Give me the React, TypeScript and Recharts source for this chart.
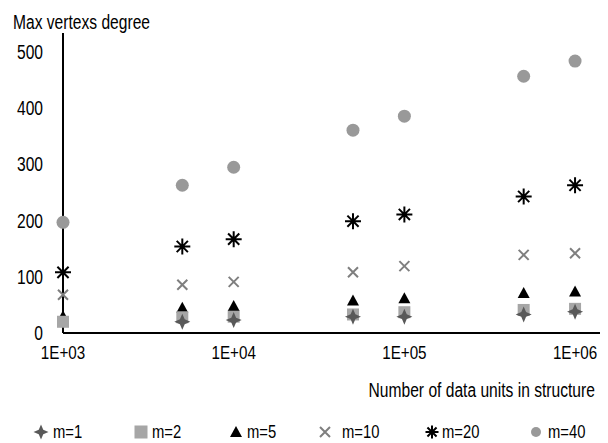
import React from 'react'
import { ScatterChart, Scatter, XAxis, YAxis } from 'recharts'

const sizes = [1000, 5000, 10000, 50000, 100000, 500000, 1000000]
const m1 = [null, 20, 23, 29, 29, 33, 38]
const m2 = [20, 28, 29, 33, 37, 41, 43]
const m5 = [30, 45, 48, 58, 62, 71, 74]
const m10 = [68, 86, 91, 108, 119, 139, 142]
const m20 = [108, 154, 167, 199, 211, 243, 263]
const m40 = [197, 263, 295, 361, 386, 457, 484]
const xTicks = [1000, 10000, 100000, 1000000]
const yTicks = [0, 100, 200, 300, 400, 500]

const FONT = '"Liberation Sans", Arial, sans-serif'
const NARROW = 0.8

const toPts = (vals: (number | null)[]) =>
  sizes.map((x, i) => ({ x, y: vals[i] })).filter(p => p.y !== null)

const Star = ({ cx, cy, R = 8 }: any) => {
  const r = R * 0.3
  const d = `M${cx},${cy - R} L${cx + r},${cy - r} L${cx + R},${cy} L${cx + r},${cy + r} L${cx},${cy + R} L${cx - r},${cy + r} L${cx - R},${cy} L${cx - r},${cy - r} Z`
  return <path d={d} fill="#595959" />
}
const Sq = ({ cx, cy, s = 6 }: any) => <rect x={cx - s} y={cy - s} width={2 * s} height={2 * s} fill="#a6a6a6" />
const Tri = ({ cx, cy }: any) => (
  <path d={`M${cx},${cy - 6} L${cx + 6},${cy + 5} L${cx - 6},${cy + 5} Z`} fill="#000" />
)
const Cross = ({ cx, cy }: any) => (
  <path d={`M${cx - 5},${cy - 5} L${cx + 5},${cy + 5} M${cx + 5},${cy - 5} L${cx - 5},${cy + 5}`}
    stroke="#7f7f7f" strokeWidth={2} />
)
const Ast = ({ cx, cy, R = 8 }: any) => {
  const k = R * 0.7
  return (
    <path d={`M${cx},${cy - R} L${cx},${cy + R} M${cx - R},${cy} L${cx + R},${cy} M${cx - k},${cy - k} L${cx + k},${cy + k} M${cx + k},${cy - k} L${cx - k},${cy + k}`}
      stroke="#000" strokeWidth={2} />
  )
}
const Dot = ({ cx, cy, r = 6.5 }: any) => <circle cx={cx} cy={cy} r={r} fill="#999999" />

// legend layout: symbol centre x, text start x
const legendItems = [
  { name: 'm=1', icon: <Star cx={9} cy={9} R={7.5} />, sx: 41, tx: 53 },
  { name: 'm=2', icon: <Sq cx={9} cy={9} s={6.5} />, sx: 141, tx: 152 },
  { name: 'm=5', icon: <Tri cx={9} cy={9} />, sx: 236, tx: 247 },
  { name: 'm=10', icon: <Cross cx={9} cy={9} />, sx: 325, tx: 342 },
  { name: 'm=20', icon: <Ast cx={9} cy={9} R={6.5} />, sx: 432, tx: 442 },
  { name: 'm=40', icon: <Dot cx={9} cy={9} r={5} />, sx: 536, tx: 548 },
]

const fmt = (v: number) => '1E+0' + Math.round(Math.log10(v))

const NarrowTick = ({ x, y, payload, textAnchor, size, formatter }: any) => (
  <text transform={`translate(${x},${y}) scale(${NARROW},1)`} textAnchor={textAnchor}
    dy="0.36em" fill="#000" fontSize={size} fontFamily={FONT}>
    {formatter ? formatter(payload.value) : payload.value}
  </text>
)

const narrowText = (origin: string): React.CSSProperties => ({
  position: 'absolute', fontFamily: FONT, fontSize: 19.5, whiteSpace: 'nowrap',
  transform: `scaleX(${NARROW})`, transformOrigin: origin, lineHeight: '20px',
})

export default function App() {
  return (
    <div style={{ position: 'absolute', left: 0, top: 0, width: 608, height: 443, background: '#fff' }}>
      <div style={{ ...narrowText('left'), left: 13, top: 12 }}>Max vertexs degree</div>
      <div style={{ ...narrowText('right'), right: 13, top: 380 }}>Number of data units in structure</div>
      <ScatterChart width={608} height={443} margin={{ top: 33, right: 8, bottom: 0, left: 0 }}>
        <XAxis dataKey="x" type="number" scale="log" domain={[1000, 1400000]} ticks={xTicks}
          height={110} tickLine={false} tickSize={0} tickMargin={19}
          axisLine={{ stroke: '#000', strokeWidth: 2 }}
          tick={<NarrowTick size={19} formatter={fmt} />} />
        <YAxis dataKey="y" type="number" domain={[0, 534]} ticks={yTicks} width={63}
          tickLine={false} tickSize={0} tickMargin={20}
          axisLine={{ stroke: '#000', strokeWidth: 2 }}
          tick={<NarrowTick size={19.5} />} />
        <Scatter name="m=40" data={toPts(m40)} shape={Dot} isAnimationActive={false} />
        <Scatter name="m=20" data={toPts(m20)} shape={Ast} isAnimationActive={false} />
        <Scatter name="m=10" data={toPts(m10)} shape={Cross} isAnimationActive={false} />
        <Scatter name="m=5" data={toPts(m5)} shape={Tri} isAnimationActive={false} />
        <Scatter name="m=2" data={toPts(m2)} shape={Sq} isAnimationActive={false} />
        <Scatter name="m=1" data={toPts(m1)} shape={Star} isAnimationActive={false} />
      </ScatterChart>
      {legendItems.map(it => (
        <React.Fragment key={it.name}>
          <svg style={{ position: 'absolute', left: it.sx - 9, top: 423 }} width={18} height={18}>{it.icon}</svg>
          <div style={{ ...narrowText('left'), left: it.tx, top: 422, fontSize: 18.5 }}>{it.name}</div>
        </React.Fragment>
      ))}
    </div>
  )
}
